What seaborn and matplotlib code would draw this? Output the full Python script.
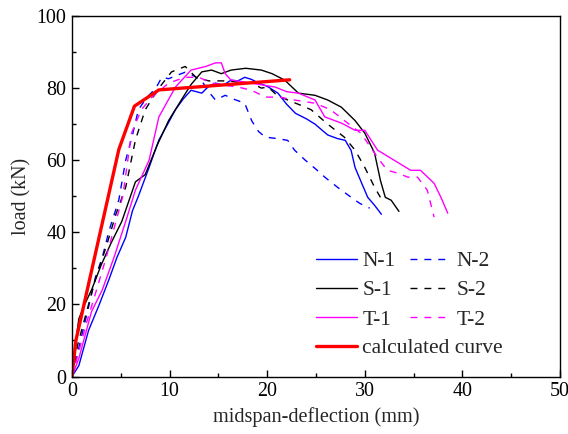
import matplotlib
matplotlib.use("Agg")
import matplotlib.pyplot as plt
import seaborn as sns
import pandas as pd
from matplotlib.ticker import MultipleLocator

# ---- data ----
n1_x = [0, 0.7, 1.7, 2.8, 3.8, 4.6, 5.5, 6.2, 6.8, 7.9, 8.9, 9.8, 10.6, 11.4, 12.2, 13.3, 14.0, 14.7, 15.5, 16.3, 17.0, 17.7, 18.4, 19.1, 20.0, 21.1, 22.0, 22.9, 24.0, 24.9, 26.2, 27.2, 28.0, 28.6, 29.0, 29.7, 30.3, 31.0, 31.7]
n1_y = [0, 3, 12.8, 20, 27, 33, 38.6, 46, 50, 58, 65.6, 70, 74, 77, 79.4, 78.6, 80.5, 81.4, 80.8, 82.2, 82.0, 83, 82.4, 81.4, 80.5, 78.6, 75.5, 73, 71.5, 70, 67, 66, 65.5, 62.7, 58, 53.5, 49.7, 47.5, 45]

n2_x = [0, 0.7, 1.5, 2.4, 3.1, 3.8, 4.8, 5.5, 6.2, 6.8, 7.7, 8.6, 9.2, 9.9, 10.7, 11.6, 12.4, 13.3, 14.0, 14.7, 15.7, 16.5, 17.7, 18.4, 19.1, 19.8, 21.0, 22.1, 22.8, 23.9, 25.0, 25.9, 27.2, 28.6, 29.5, 30.5]
n2_y = [0, 8, 17, 27.5, 33, 40.5, 49, 60, 67, 74, 77.5, 80, 83, 82.6, 83.5, 84.4, 83.5, 82, 79, 76.7, 78, 77, 75.8, 71, 68, 66.4, 66, 65.5, 62.8, 60, 57.5, 55.3, 52.5, 49.7, 48, 46.7]

s1_x = [0, 0.3, 0.7, 1.3, 2.0, 3.0, 4.0, 5.1, 6.5, 7.5, 8.7, 9.9, 11.2, 12.2, 13.3, 14.3, 15.3, 16.3, 17.8, 19.4, 20.5, 21.8, 23.2, 24.9, 26.2, 27.6, 29.0, 30.0, 31.0, 31.6, 32.1, 32.7, 33.5]
s1_y = [0, 8, 16, 20, 24, 31, 37, 43, 54, 56, 64, 71, 76.7, 81, 84.5, 85, 84, 85, 85.5, 85, 84, 82.2, 78.6, 78, 76.7, 74.7, 71, 67.5, 62, 54.4, 49.7, 48.9, 45.8]

s2_x = [0, 0.6, 1.5, 2.4, 3.5, 4.5, 5.5, 6.5, 7.5, 8.9, 10.2, 11.6, 12.7, 14.0, 15.8, 17.2, 18.4, 19.4, 20.1, 21.0, 22.1, 23.2, 24.5, 26.2, 27.9, 29.0, 30.0, 31.0, 31.6]
s2_y = [0, 9, 18, 27, 36, 45, 52.5, 65.6, 74, 80, 84.5, 86, 83, 82, 82, 81.6, 81.4, 80, 80.3, 78, 76.7, 75.5, 74, 70, 66.4, 62.8, 58, 52.5, 49.7]

t1_x = [0, 0.7, 2.0, 3.1, 4.3, 5.5, 6.5, 7.9, 8.9, 10.6, 12.2, 13.7, 14.7, 15.3, 15.7, 16.3, 17.7, 19.2, 20.8, 22.0, 23.2, 24.9, 25.9, 27.6, 29.0, 30.0, 31.3, 33.0, 34.7, 35.7, 37.1, 37.8, 38.5]
t1_y = [0, 5, 18, 24, 33, 43, 51.7, 60, 72, 80.3, 85, 86, 87, 87, 84, 82.2, 81.7, 81, 80.3, 79, 78.6, 76.7, 72, 70.3, 68.3, 68.3, 62.8, 60, 57.2, 57.2, 53.6, 49.7, 45.3]

t2_x = [0, 0.7, 1.5, 2.4, 3.5, 4.4, 5.2, 6.1, 7.1, 8.2, 9.9, 11.6, 13.0, 14.3, 15.6, 17.0, 18.4, 19.8, 21.2, 22.8, 24.9, 26.5, 27.9, 29.6, 31.3, 32.3, 33.4, 34.4, 35.4, 36.4, 37.1]
t2_y = [0, 7, 15, 23, 33, 42, 50, 67.5, 74, 77.5, 81.4, 83, 83, 81.4, 80.8, 80.3, 79.4, 77.5, 77.5, 76.7, 75.8, 74, 71, 67.5, 60.8, 57.2, 56.4, 55.3, 55.3, 51.7, 44.2]

calc_x = [0, 0.4, 4.8, 6.4, 8.9, 22.3]
calc_y = [0, 10, 63, 75, 79.5, 82.3]

x_ticks = [0, 10, 20, 30, 40, 50]
y_ticks = [0, 20, 40, 60, 80, 100]

sns.set_theme(style="ticks")
plt.rcParams['font.family'] = ['Liberation Serif', 'DejaVu Serif']

W, H = 568, 434
fig = plt.figure(figsize=(W / 100, H / 100), dpi=100)
ax = fig.add_axes([72 / W, 1 - 376.5 / H, (560 - 72) / W, (376.5 - 16) / H])

DASH = (0, (5, 5))
series = [
    ("N-1", n1_x, n1_y, "#0000ff", "-", 1.0),
    ("S-1", s1_x, s1_y, "#000000", "-", 1.0),
    ("T-1", t1_x, t1_y, "#ff00ff", "-", 1.0),
    ("N-2", n2_x, n2_y, "#0000ff", DASH, 1.0),
    ("S-2", s2_x, s2_y, "#000000", DASH, 1.0),
    ("T-2", t2_x, t2_y, "#ff00ff", DASH, 1.0),
    ("calculated curve", calc_x, calc_y, "#ff0000", "-", 2.4),
]
draw_order = [0, 3, 1, 4, 2, 5, 6]
handles = {}
for i in draw_order:
    name, xs, ys, c, ls, lw = series[i]
    df = pd.DataFrame({"x": xs, "y": ys})
    sns.lineplot(data=df, x="x", y="y", ax=ax, color=c, linewidth=lw,
                 sort=False, estimator=None, label=name)
    ax.lines[-1].set_linestyle(ls)
    handles[name] = ax.lines[-1]

leg_kw = dict(frameon=False, fontsize=15.5, handlelength=1.9, handletextpad=0.25,
              columnspacing=0.7, labelspacing=0.43, borderpad=0, borderaxespad=0,
              loc="upper left", bbox_transform=fig.transFigure)
names6 = [s[0] for s in series[:6]]
leg1 = ax.legend([handles[n] for n in names6], names6, ncol=2,
                 bbox_to_anchor=(316 / W, 1 - 251 / H), **leg_kw)
ax.add_artist(leg1)
ax.legend([handles["calculated curve"]], ["calculated curve"],
          bbox_to_anchor=(316 / W, 1 - 338 / H), **leg_kw)

ax.set_xlim(0, 50)
ax.set_ylim(0, 100)
ax.set_xticks(x_ticks)
ax.set_yticks(y_ticks)
ax.xaxis.set_minor_locator(MultipleLocator(5))
ax.yaxis.set_minor_locator(MultipleLocator(10))
ax.tick_params(which="both", direction="in", top=False, right=False,
               labelsize=14.4, colors="black", pad=4)
ax.tick_params(which="major", length=5, width=1)
ax.tick_params(which="minor", length=3, width=1)
for sp in ax.spines.values():
    sp.set_visible(True)
    sp.set_color("black")
    sp.set_linewidth(1.0)
ax.set_xlabel("midspan-deflection (mm)", fontsize=14.6, labelpad=4)
ax.set_ylabel("load (kN)", fontsize=14.4, labelpad=4)

fig.savefig("out.png", dpi=100)
